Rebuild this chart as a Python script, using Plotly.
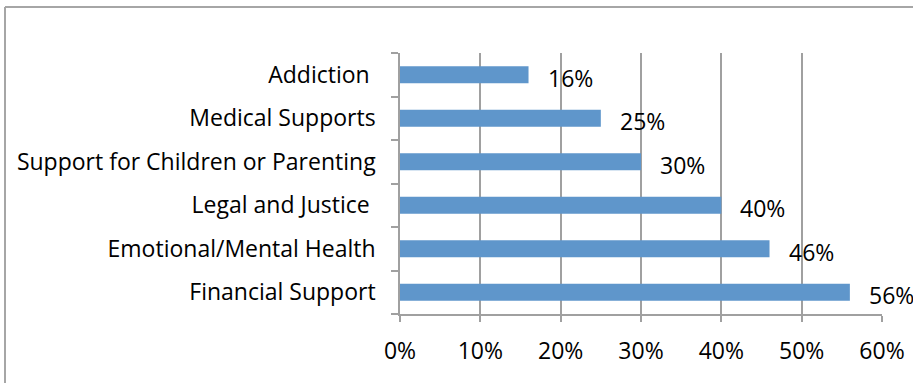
import plotly.graph_objects as go

categories = ["Addiction\u00a0", "Medical Supports", "Support for Children or Parenting",
              "Legal and Justice\u00a0", "Emotional/Mental Health", "Financial Support"]
values = [16, 25, 30, 40, 46, 56]
tick_vals = [0, 10, 20, 30, 40, 50, 60]
tick_text = ["0%", "10%", "20%", "30%", "40%", "50%", "60%"]

FONT = "Open Sans"
FS = 23
GRID = "#a0a0a0"

fig = go.Figure(go.Bar(
    x=values, y=categories, orientation="h",
    marker=dict(color="#5f96cb", line=dict(width=0)),
    width=0.39, hoverinfo="skip",
))

for c, v in zip(categories, values):
    fig.add_annotation(x=v, y=c, text=f"{v}%", showarrow=False,
                       xanchor="left", xshift=17, yshift=-3,
                       font=dict(family=FONT, size=FS, color="#000"))

fig.update_layout(
    width=913, height=383,
    margin=dict(l=400, r=31, t=53, b=69, autoexpand=False),
    paper_bgcolor="white", plot_bgcolor="white",
    showlegend=False,
    font=dict(family=FONT, size=FS, color="#000"),
    xaxis=dict(range=[0, 60], tickvals=tick_vals, ticktext=tick_text,
               showgrid=True, gridcolor=GRID, gridwidth=1.5,
               showline=True, linecolor=GRID, linewidth=1.5,
               ticks="outside", ticklen=6, tickcolor=GRID, tickwidth=1.5,
               zeroline=False, ticklabelstandoff=10, fixedrange=True,
               automargin=False),
    yaxis=dict(categoryorder="array", categoryarray=categories[::-1],
               showline=True, linecolor=GRID, linewidth=1.5,
               ticks="outside", ticklen=7, tickcolor=GRID, tickwidth=1.5,
               tickson="boundaries", showgrid=False, zeroline=False,
               ticklabelstandoff=18, fixedrange=True, automargin=False),
    shapes=[
        dict(type="line", xref="paper", yref="paper",
             x0=(5 - 400) / 482, x1=(913 - 400) / 482,
             y0=(314 - 7) / 261, y1=(314 - 7) / 261,
             line=dict(color="#a6a6a6", width=2)),
        dict(type="line", xref="paper", yref="paper",
             x0=(5 - 400) / 482, x1=(5 - 400) / 482,
             y0=(314 - 7) / 261, y1=(314 - 383) / 261,
             line=dict(color="#a6a6a6", width=2)),
    ],
)

fig.write_html("out.html")
